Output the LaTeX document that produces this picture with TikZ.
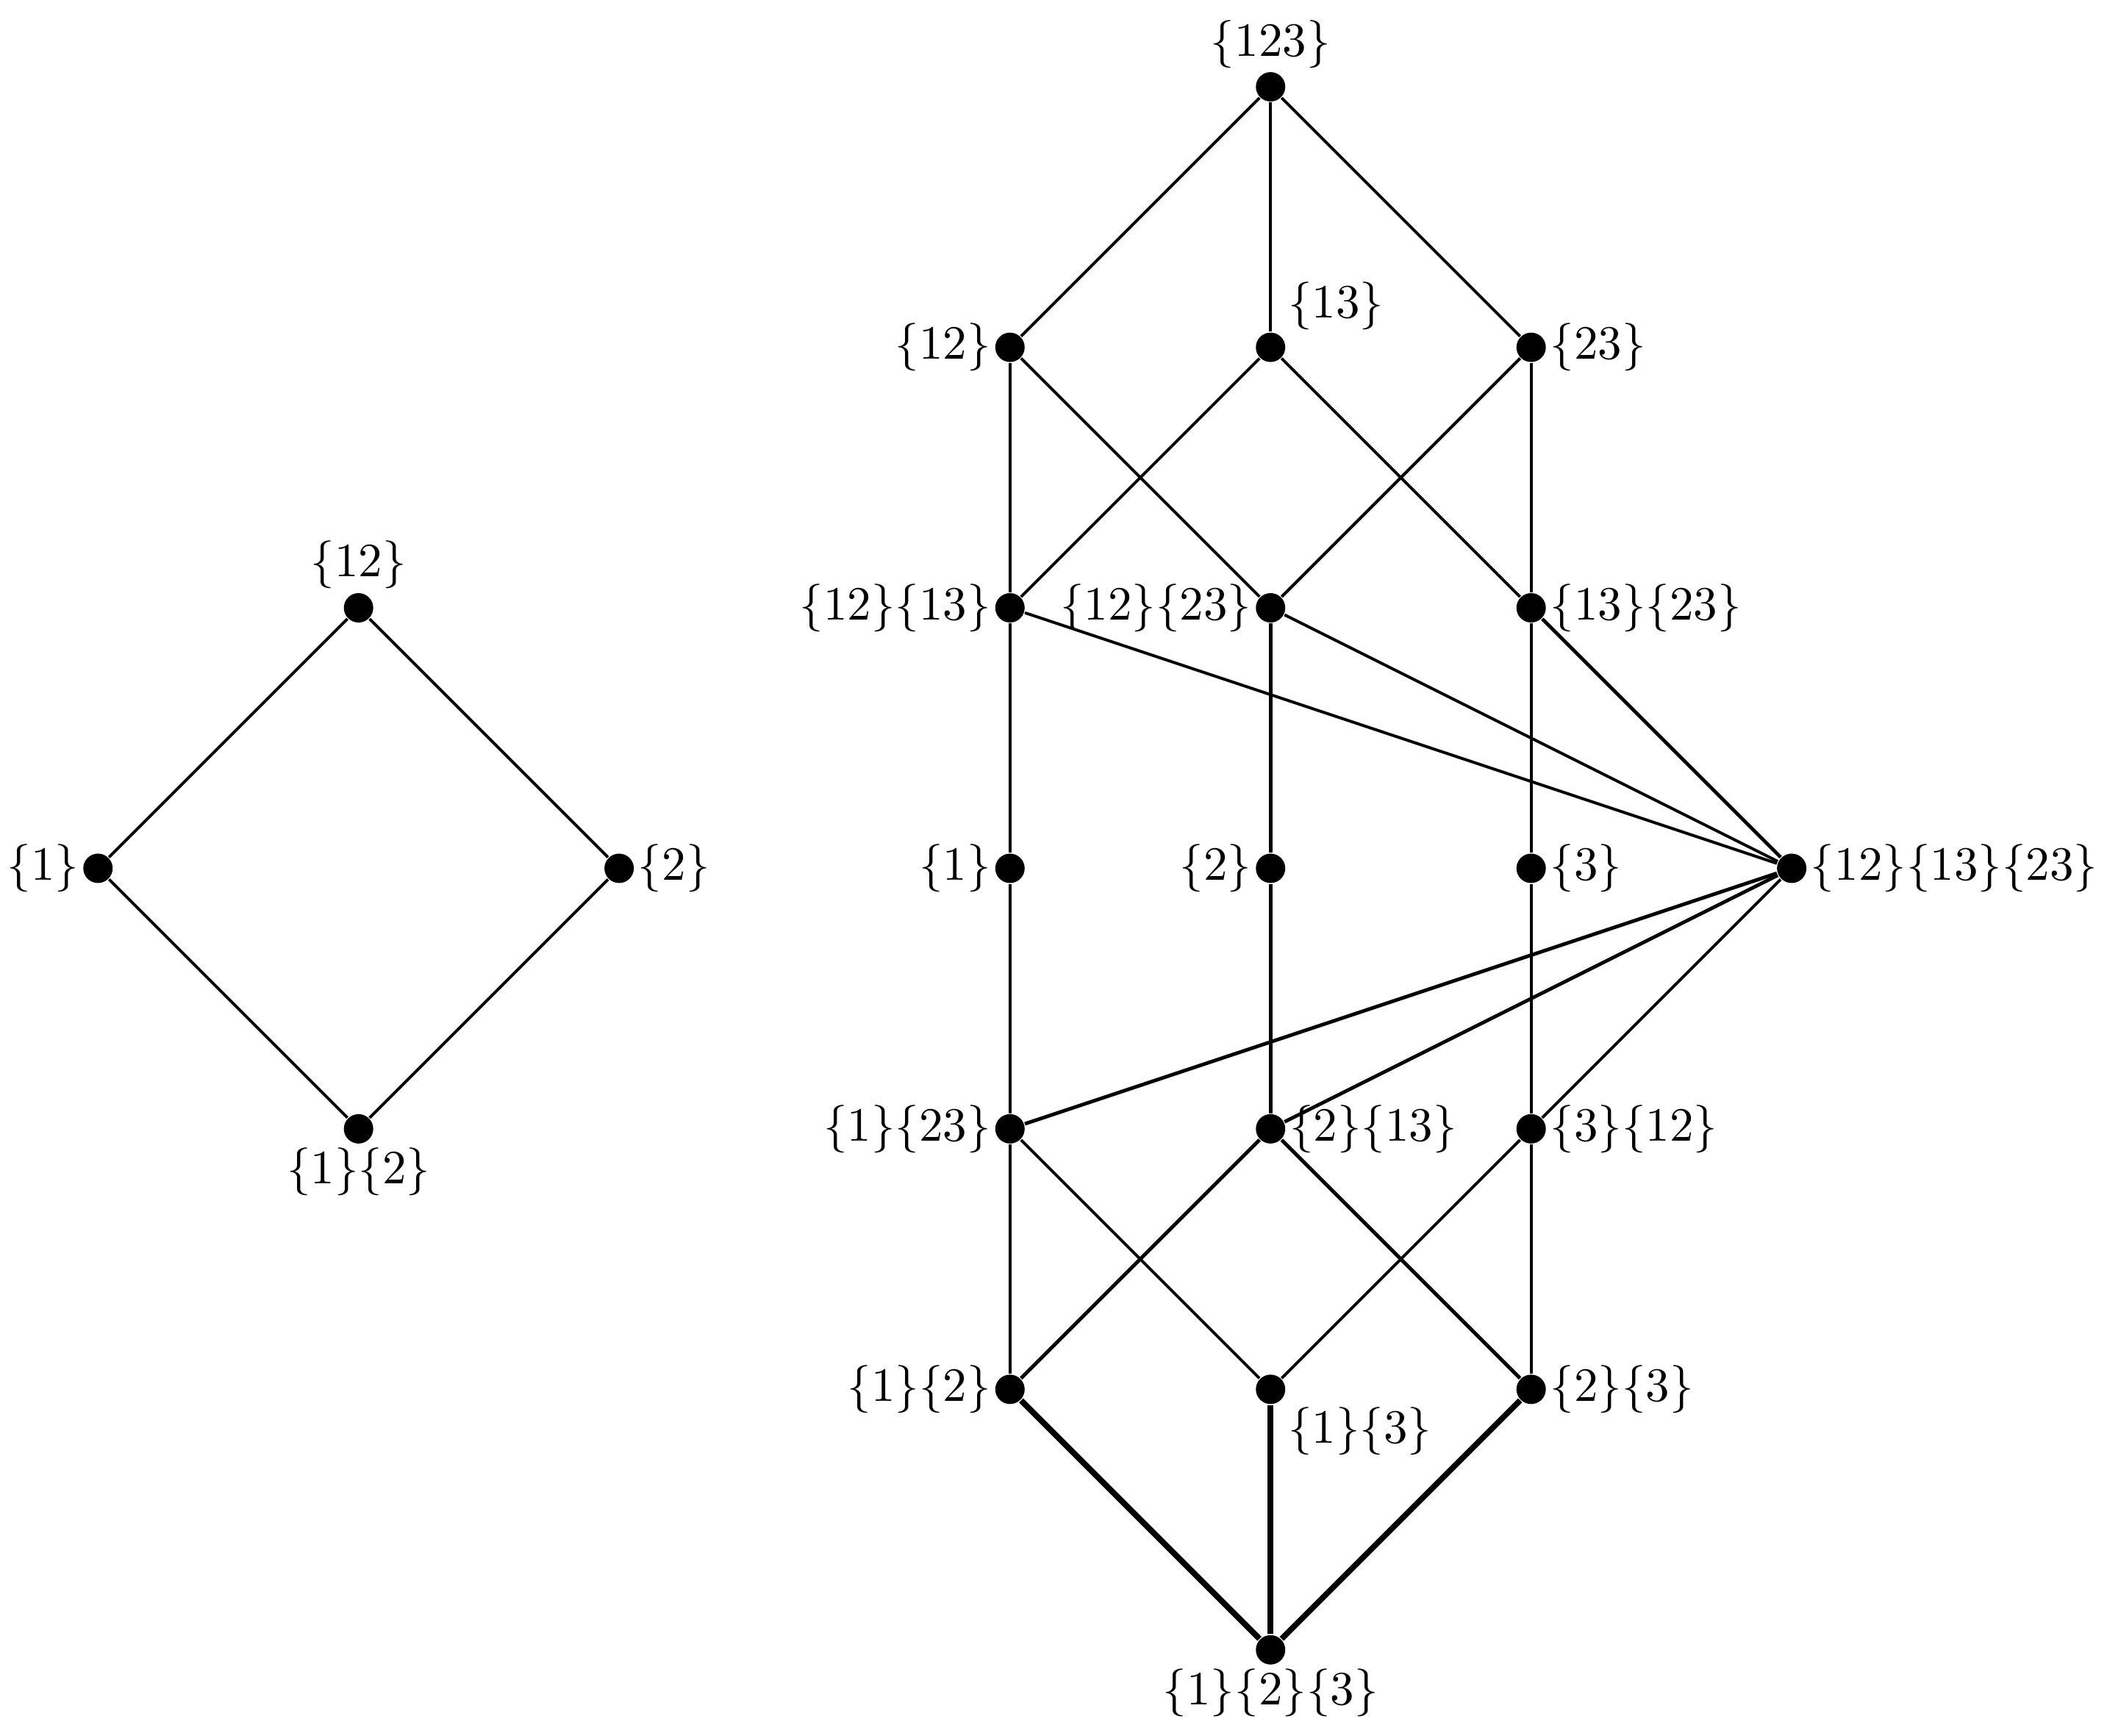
\documentclass[tikz,border=0pt]{standalone}
\begin{document}
\tikzset{
  dot/.style={circle,fill=black,inner sep=0pt,minimum size=6.15pt},
  edge/.style={line width=0.6pt},
  medium/.style={line width=0.75pt},
  heavy/.style={line width=1.2pt},
  every label/.style={inner sep=0.5pt}
}
\begin{tikzpicture}[x=54.52pt,y=-54.52pt,label distance=0pt]
\useasboundingbox (-3.876,-0.3332) rectangle (4.210,6.330);
% left diamond
\node[dot,label=above:{$\{12\}$}] (L12) at (-2.5,2) {};
\node[dot,label=left:{$\{1\}$}] (L1) at (-3.5,3) {};
\node[dot,label=right:{$\{2\}$}] (L2) at (-1.5,3) {};
\node[dot,label=below:{$\{1\}\{2\}$}] (L1L2) at (-2.5,4) {};
\draw[edge] (L12) -- (L1) -- (L1L2) -- (L2) -- (L12);
% right lattice
\node[dot,label=above:{$\{123\}$}] (a123) at (1,0) {};
\node[dot,label=left:{$\{12\}$}] (a12) at (0,1) {};
\node[dot,label={[label distance=1pt]above right:{$\{13\}$}}] (a13) at (1,1) {};
\node[dot,label=right:{$\{23\}$}] (a23) at (2,1) {};
\node[dot,label=left:{$\{12\}\{13\}$}] (b1213) at (0,2) {};
\node[dot,label=left:{$\{12\}\{23\}$}] (b1223) at (1,2) {};
\node[dot,label=right:{$\{13\}\{23\}$}] (b1323) at (2,2) {};
\node[dot,label=left:{$\{1\}$}] (c1) at (0,3) {};
\node[dot,label=left:{$\{2\}$}] (c2) at (1,3) {};
\node[dot,label=right:{$\{3\}$}] (c3) at (2,3) {};
\node[dot,label=right:{$\{12\}\{13\}\{23\}$}] (call) at (3,3) {};
\node[dot,label=left:{$\{1\}\{23\}$}] (d123) at (0,4) {};
\node[dot,label=right:{$\{2\}\{13\}$}] (d213) at (1,4) {};
\node[dot,label=right:{$\{3\}\{12\}$}] (d312) at (2,4) {};
\node[dot,label=left:{$\{1\}\{2\}$}] (e12) at (0,5) {};
\node[dot,label={[label distance=1pt]below right:{$\{1\}\{3\}$}}] (e13) at (1,5) {};
\node[dot,label=right:{$\{2\}\{3\}$}] (e23) at (2,5) {};
\node[dot,label=below:{$\{1\}\{2\}\{3\}$}] (f123) at (1,6) {};
% edges
\draw[edge] (a123) -- (a12);
\draw[edge] (a123) -- (a13);
\draw[edge] (a123) -- (a23);
\draw[edge] (a12) -- (b1213);
\draw[edge] (a12) -- (b1223);
\draw[edge] (a13) -- (b1213);
\draw[edge] (a13) -- (b1323);
\draw[edge] (a23) -- (b1223);
\draw[edge] (a23) -- (b1323);
\draw[edge] (b1213) -- (c1);
\draw[medium] (b1223) -- (c2);
\draw[edge] (b1323) -- (c3);
\draw[edge] (b1213) -- (call);
\draw[edge] (b1223) -- (call);
\draw[medium] (b1323) -- (call);
\draw[edge] (c1) -- (d123);
\draw[medium] (c2) -- (d213);
\draw[edge] (c3) -- (d312);
\draw[medium] (call) -- (d123);
\draw[medium] (call) -- (d213);
\draw[edge] (call) -- (d312);
\draw[edge] (d123) -- (e12);
\draw[edge] (d123) -- (e13);
\draw[medium] (d213) -- (e12);
\draw[medium] (d213) -- (e23);
\draw[edge] (d312) -- (e13);
\draw[edge] (d312) -- (e23);
\draw[heavy] (e12) -- (f123);
\draw[heavy] (e13) -- (f123);
\draw[heavy] (e23) -- (f123);
\end{tikzpicture}
\end{document}
